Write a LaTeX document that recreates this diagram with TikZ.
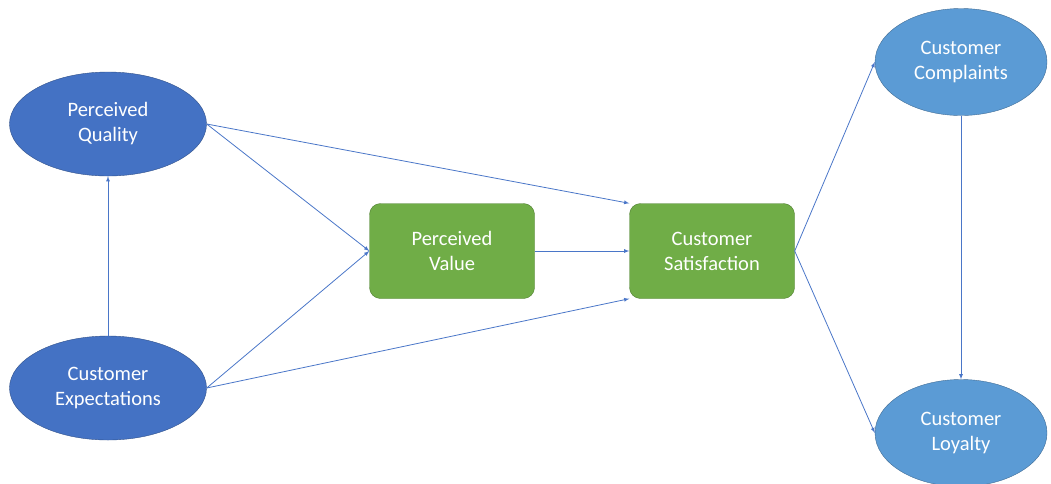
\documentclass[tikz,border=0pt]{standalone}
\usepackage{fontspec}
\setmainfont{Carlito}
\usepackage{tikz}
\usetikzlibrary{arrows,shapes.geometric}

\definecolor{darkblue}{HTML}{4472C4}
\definecolor{lightblue}{HTML}{5B9BD5}
\definecolor{leafgreen}{HTML}{70AD47}
\definecolor{leafedge}{HTML}{507E32}
\definecolor{arrowblue}{HTML}{4A76C8}

\begin{document}
\begin{tikzpicture}[x=1pt,y=-1pt,>=latex]
          \tikzstyle{oval}=[ellipse,draw=darkblue!70!black,fill=darkblue,text=white,
            minimum width=197pt,minimum height=104pt,inner sep=0pt,align=center,
            font=\fontsize{20.5}{25}\selectfont]
          \tikzstyle{pale}=[oval,fill=lightblue,draw=lightblue!70!black,
            minimum width=172pt,minimum height=107pt]
          \tikzstyle{box}=[rectangle,rounded corners=11pt,draw=leafedge,fill=leafgreen,
            text=white,minimum width=165pt,minimum height=95pt,align=center,
            font=\fontsize{20.5}{25}\selectfont]
          \tikzstyle{link}=[->,color=arrowblue,line width=0.8pt]

          \useasboundingbox (0,0) rectangle (1051,483);

          \node[oval](quality) at (108,124){Perceived\\Quality};
          \node[oval](expect) at (108,388){Customer\\Expectations};
          \node[box](value) at (452,251){Perceived\\Value};
          \node[box](satis) at (712,251){Customer\\Satisfaction};
          \node[pale](complain) at (961,62){Customer\\Complaints};
          \node[pale](loyal) at (961,433){Customer\\Loyalty};

          \path[link]
          (expect) edge (quality)
          (quality.east) edge (value.west)
          (quality.east) edge (satis.north west)
          (expect.east) edge (value.west)
          (expect.east) edge (satis.south west)
          (value) edge (satis)
          (satis.east) edge (complain.west)
          (satis.east) edge (loyal.west)
          (complain) edge (loyal);
        \end{tikzpicture}
\end{document}
